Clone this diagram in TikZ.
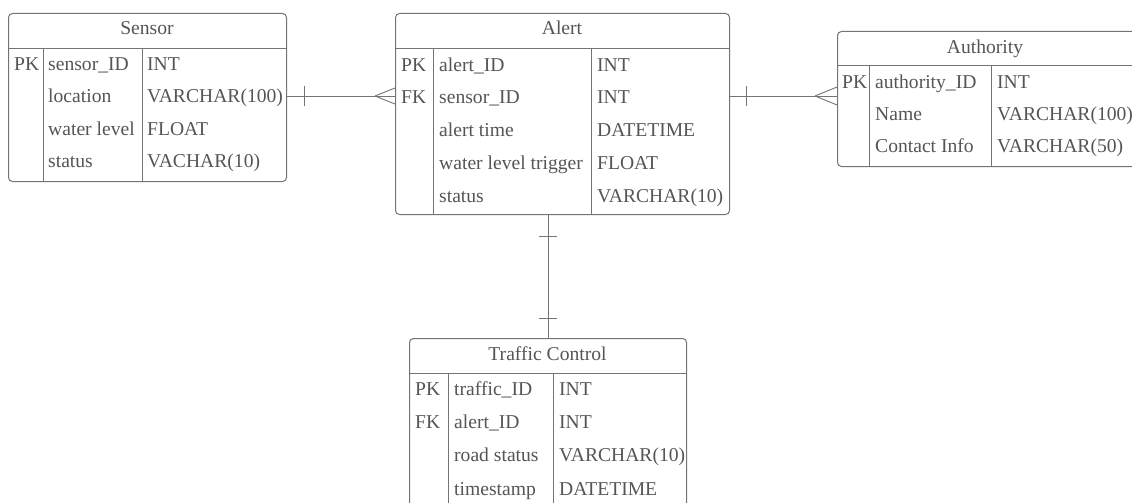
\documentclass[tikz,border=0pt]{standalone}
\usepackage{fontspec}
\setmainfont{Liberation Serif}
\definecolor{linec}{HTML}{747474}
\definecolor{txtc}{HTML}{555555}
\begin{document}
\begin{tikzpicture}[x=1pt,y=-1pt,
  ent/.style={draw=linec, line width=1pt, rounded corners=4pt, inner sep=0pt, anchor=north west},
  rule/.style={draw=linec, line width=1pt},
  rel/.style={draw=linec, line width=0.9pt},
  txt/.style={anchor=base west, inner sep=0pt, text=txtc, font=\fontsize{19.6}{22}\selectfont},
  ttl/.style={anchor=base, inner sep=0pt, text=txtc, font=\fontsize{19.6}{22}\selectfont}]
\fill[white] (0,0) rectangle (1132,503);
\useasboundingbox (0,0) rectangle (1132,503);

% ---------- Sensor ----------
\node[ent, minimum width=278pt, minimum height=168pt] (sensor) at (8,13) {};
\draw[rule] (sensor.west |- 0,49) -- (sensor.east |- 0,49);
\draw[rule] (43,49) -- (sensor.south -| 43,0);
\draw[rule] (142,49) -- (sensor.south -| 142,0);
\node[ttl] (sensorT) at (147,35) {Sensor};
\node[txt] (s1k) at (14,70.5) {PK};
\node[txt] (s1n) at (48,70.5) {sensor\_ID};
\node[txt] (s1t) at (147,70.5) {INT};
\node[txt] (s2n) at (48,102.9) {location};
\node[txt] (s2t) at (147,102.9) {VARCHAR(100)};
\node[txt] (s3n) at (48,135.3) {water level};
\node[txt] (s3t) at (147,135.3) {FLOAT};
\node[txt] (s4n) at (48,167.7) {status};
\node[txt] (s4t) at (147,167.7) {VACHAR(10)};

% ---------- Alert ----------
\node[ent, minimum width=334pt, minimum height=201pt] (alert) at (395,13) {};
\draw[rule] (alert.west |- 0,49) -- (alert.east |- 0,49);
\draw[rule] (433,49) -- (alert.south -| 433,0);
\draw[rule] (591,49) -- (alert.south -| 591,0);
\node[ttl] (alertT) at (562,35) {Alert};
\node[txt] (a1k) at (401,71) {PK};
\node[txt] (a1n) at (439,71) {alert\_ID};
\node[txt] (a1t) at (597,71) {INT};
\node[txt] (a2k) at (401,103.8) {FK};
\node[txt] (a2n) at (439,103.8) {sensor\_ID};
\node[txt] (a2t) at (597,103.8) {INT};
\node[txt] (a3n) at (439,136.6) {alert time};
\node[txt] (a3t) at (597,136.6) {DATETIME};
\node[txt] (a4n) at (439,169.4) {water level trigger};
\node[txt] (a4t) at (597,169.4) {FLOAT};
\node[txt] (a5n) at (439,202.2) {status};
\node[txt] (a5t) at (597,202.2) {VARCHAR(10)};

% ---------- Authority ----------
\node[ent, minimum width=310pt, minimum height=135pt] (auth) at (837,31) {};
\draw[rule] (auth.west |- 0,66) -- (auth.east |- 0,66);
\draw[rule] (869,66) -- (auth.south -| 869,0);
\draw[rule] (991,66) -- (auth.south -| 991,0);
\node[ttl] (authT) at (985,53.3) {Authority};
\node[txt] (u1k) at (842,88.3) {PK};
\node[txt] (u1n) at (875,88.3) {authority\_ID};
\node[txt] (u1t) at (997,88.3) {INT};
\node[txt] (u2n) at (875,120.5) {Name};
\node[txt] (u2t) at (997,120.5) {VARCHAR(100)};
\node[txt] (u3n) at (875,152.7) {Contact Info};
\node[txt] (u3t) at (997,152.7) {VARCHAR(50)};

% ---------- Traffic Control ----------
\node[ent, minimum width=277pt, minimum height=200pt] (traffic) at (409,338) {};
\draw[rule] (traffic.west |- 0,373) -- (traffic.east |- 0,373);
\draw[rule] (448,373) -- (traffic.south -| 448,0);
\draw[rule] (553,373) -- (traffic.south -| 553,0);
\node[ttl] (trafficT) at (547.5,360.7) {Traffic Control};
\node[txt] (t1k) at (415,395) {PK};
\node[txt] (t1n) at (454,395) {traffic\_ID};
\node[txt] (t1t) at (559,395) {INT};
\node[txt] (t2k) at (415,428.3) {FK};
\node[txt] (t2n) at (454,428.3) {alert\_ID};
\node[txt] (t2t) at (559,428.3) {INT};
\node[txt] (t3n) at (454,461.7) {road status};
\node[txt] (t3t) at (559,461.7) {VARCHAR(10)};
\node[txt] (t4n) at (454,495) {timestamp};
\node[txt] (t4t) at (559,495) {DATETIME};

% ---------- Relationships ----------
% Sensor (one) -- Alert (many)
\draw[rel] (sensor.east |- 0,96) -- (alert.west |- 0,96);
\draw[rel] (304,86) -- (304,106);
\draw[rel] (375,96) -- (alert.west |- 0,88);
\draw[rel] (375,96) -- (alert.west |- 0,104);

% Alert (one) -- Authority (many)
\draw[rel] (alert.east |- 0,96) -- (auth.west |- 0,96);
\draw[rel] (746,86) -- (746,106);
\draw[rel] (815,96) -- (auth.west |- 0,87);
\draw[rel] (815,96) -- (auth.west |- 0,105);

% Alert (one) -- Traffic Control (one)
\draw[rel] (alert.south -| 548,0) -- (traffic.north -| 548,0);
\draw[rel] (539,236) -- (557,236);
\draw[rel] (539,318) -- (557,318);
\end{tikzpicture}
\end{document}
